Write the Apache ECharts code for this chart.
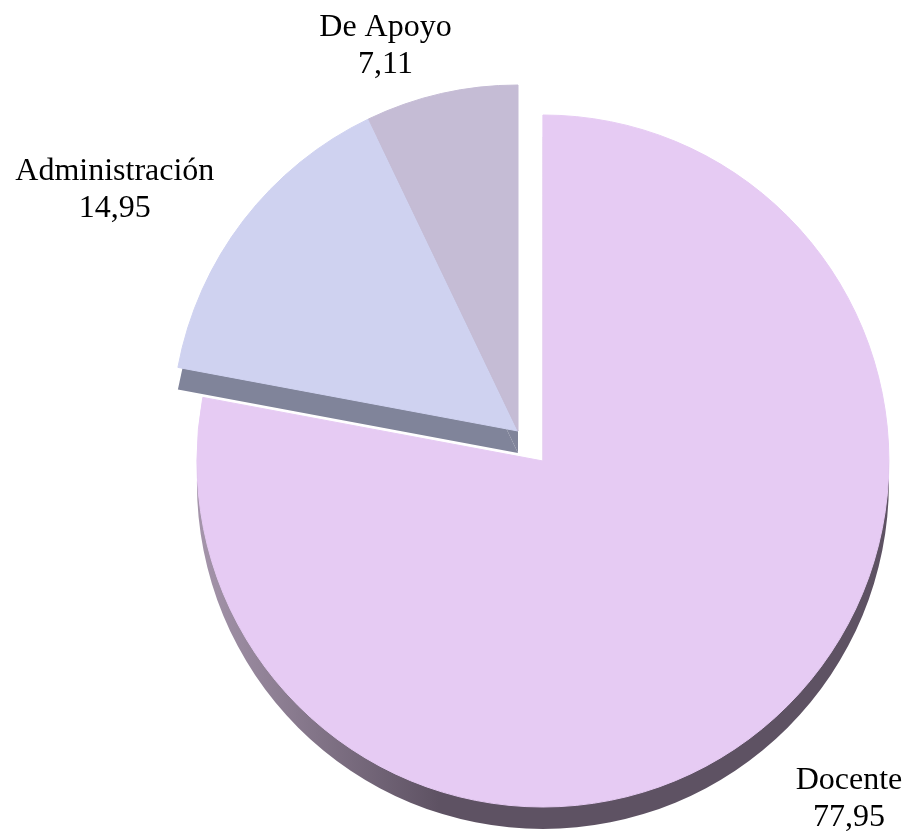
<!DOCTYPE html>
<html>
<head>
<meta charset="utf-8">
<script src="https://cdn.jsdelivr.net/npm/echarts@6/dist/echarts.min.js"></script>
<style>
  html,body{margin:0;padding:0;background:#fff;}
  #main{width:907px;height:831px;}
</style>
</head>
<body>
<div id="main"></div>
<script>
var categories = ['Docente', 'Administración', 'De Apoyo'];
var values = [77.95, 14.95, 7.11];

// colores de la cara superior y del canto (efecto 3D)
var topColors = ['#e6cbf3', '#cfd2f0', '#c5bcd5'];
var sideColors = [
  new echarts.graphic.LinearGradient(0, 0, 1, 0, [
    {offset: 0, color: '#a595ab'},
    {offset: 0.35, color: '#5e5263'},
    {offset: 1, color: '#5e5263'}
  ]),
  '#80849a',
  '#80849a'
];
// largo de la guia de cada etiqueta (la guia no se dibuja)
var lineLen = [[94, 25], [50, 89], [49, 45]];

var myChart = echarts.init(document.getElementById('main'));

function buildData(colors, withLabel) {
  var d = [];
  for (var i = 0; i < categories.length; i++) {
    var item = {
      name: categories[i],
      value: values[i],
      selected: i === 0,
      itemStyle: withLabel
        ? {color: colors[i], borderColor: colors[i], borderWidth: 1}
        : {color: colors[i], borderWidth: 0}
    };
    if (withLabel) {
      item.labelLine = {show: false, length: lineLen[i][0], length2: lineLen[i][1]};
    }
    d.push(item);
  }
  return d;
}

var center = [518, 431];
var radius = 346;
var depth = 22;

var option = {
  animation: false,
  series: [
    {
      // canto
      type: 'pie',
      silent: true,
      center: [center[0], center[1] + depth],
      radius: radius,
      startAngle: 90,
      clockwise: true,
      selectedMode: 'single',
      selectedOffset: 39,
      label: {show: false},
      labelLine: {show: false},
      emphasis: {disabled: true},
      data: buildData(sideColors, false)
    },
    {
      // cara superior
      type: 'pie',
      center: center,
      radius: radius,
      startAngle: 90,
      clockwise: true,
      selectedMode: 'single',
      selectedOffset: 39,
      emphasis: {disabled: true},
      label: {
        show: true,
        position: 'outside',
        distanceToLabelLine: 0,
        overflow: 'none',
        color: '#000',
        fontFamily: 'Liberation Serif',
        fontSize: 32,
        lineHeight: 37,
        formatter: function (p) {
          return p.name + '\n' + String(p.value).replace('.', ',');
        }
      },
      labelLine: {show: false},
      labelLayout: {align: 'center', verticalAlign: 'middle'},
      data: buildData(topColors, true)
    }
  ]
};

myChart.setOption(option);
</script>
</body>
</html>
